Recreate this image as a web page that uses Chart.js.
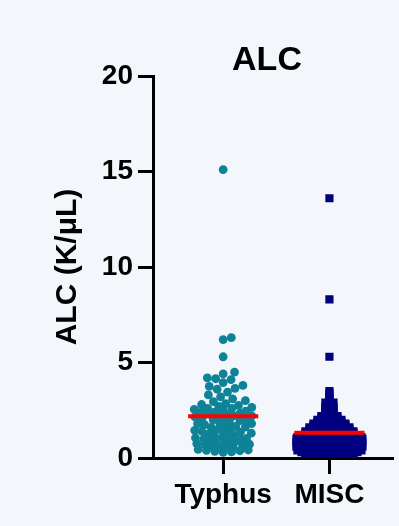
<!DOCTYPE html>
<html>
<head>
<meta charset="utf-8">
<script src="https://cdn.jsdelivr.net/npm/chart.js@4/dist/chart.umd.min.js"></script>
<style>
  html, body { margin: 0; padding: 0; background: #f3f6fa; }
  #wrap { width: 399px; height: 526px; }
</style>
</head>
<body>
<div id="wrap"><canvas id="c" width="399" height="526"></canvas></div>
<script>
// Group names, in x order
const categories = ['Typhus', 'MISC'];

// Absolute lymphocyte count per patient (K/µL)
const typhusALC = [
  15.1, 6.3, 6.2, 5.3,
  4.5, 4.4, 4.2, 4.15, 4.1, 3.95, 3.8, 3.75, 3.65, 3.6, 3.45,
  3.3, 3.2, 3.1, 3.0, 2.95, 2.85, 2.8, 2.75, 2.7, 2.65, 2.6, 2.6, 2.55, 2.5,
  2.45, 2.4, 2.4, 2.35, 2.3, 2.3, 2.25, 2.2, 2.2, 2.15, 2.1, 2.05, 2.0, 2.0,
  1.95, 1.9, 1.85, 1.8, 1.8, 1.75, 1.7, 1.65, 1.62, 1.6, 1.55, 1.5, 1.45, 1.4,
  1.4, 1.35, 1.3, 1.25, 1.2, 1.2, 1.15, 1.1, 1.05, 1.02, 1.0, 0.95, 0.92, 0.9,
  0.85, 0.8, 0.8, 0.75, 0.72, 0.7, 0.65, 0.6, 0.6, 0.55, 0.52, 0.5, 0.45, 0.42,
  0.4, 0.38, 0.35, 0.32, 0.3
];
const miscALC = [
  13.6, 8.3, 5.3,
  3.5, 3.4, 3.2, 3.1, 3.0, 2.9, 2.9, 2.8, 2.7, 2.7, 2.6, 2.6, 2.5, 2.5,
  2.4, 2.4, 2.3, 2.3, 2.2, 2.2, 2.2, 2.1, 2.1, 2.1,
  2.0, 2.0, 2.0, 2.0, 1.9, 1.9, 1.9, 1.9,
  1.8, 1.8, 1.8, 1.8, 1.8, 1.7, 1.7, 1.7, 1.7, 1.7,
  1.6, 1.6, 1.6, 1.6, 1.6, 1.6, 1.5, 1.5, 1.5, 1.5, 1.5, 1.5,
  1.4, 1.4, 1.4, 1.4, 1.4, 1.4, 1.4, 1.3, 1.3, 1.3, 1.3, 1.3, 1.3, 1.3,
  1.2, 1.2, 1.2, 1.2, 1.2, 1.2, 1.2, 1.2,
  1.1, 1.1, 1.1, 1.1, 1.1, 1.1, 1.1, 1.1, 1.1,
  1.0, 1.0, 1.0, 1.0, 1.0, 1.0, 1.0, 1.0, 1.0, 1.0,
  0.9, 0.9, 0.9, 0.9, 0.9, 0.9, 0.9, 0.9, 0.9,
  0.8, 0.8, 0.8, 0.8, 0.8, 0.8, 0.8, 0.8, 0.8, 0.8,
  0.7, 0.7, 0.7, 0.7, 0.7, 0.7, 0.7, 0.7, 0.7,
  0.6, 0.6, 0.6, 0.6, 0.6, 0.6, 0.6, 0.6, 0.6, 0.6,
  0.5, 0.5, 0.5, 0.5, 0.5, 0.5, 0.5, 0.5,
  0.4, 0.4, 0.4, 0.4, 0.4, 0.4, 0.4, 0.4, 0.4,
  0.3, 0.3, 0.3, 0.3, 0.3, 0.3, 0.3, 0.3,
  0.2, 0.2, 0.2, 0.2, 0.2, 0.2, 0.2,
  0.1, 0.1, 0.1, 0.1, 0.1, 0.1, 0.1
];

// Y axis ticks
const yTicks = [0, 5, 10, 15, 20];

const FONT = "'Liberation Sans', Arial, Helvetica, sans-serif";
const TEAL = '#0e8397';
const NAVY = '#000080';

const mean = arr => arr.reduce((s, v) => s + v, 0) / arr.length;

// Greedy beeswarm: place each point (pixel space) as close to the centre
// line as possible without overlap. When a level is full, the allowed
// spacing is relaxed step by step so points overlap instead of piling up
// at the edges.
function swarmOffsets(ysPx, d0, maxHalf) {
  const order = ysPx.map((y, i) => i).sort((a, b) => ysPx[b] - ysPx[a]);
  const placed = [];
  const xs = new Array(ysPx.length).fill(0);
  for (const i of order) {
    const y = ysPx[i];
    let x;
    for (const f of [1, 0.85, 0.7, 0.55, 0.4, 0.25, 0]) {
      const d = d0 * f;
      const near = placed.filter(p => Math.abs(p.y - y) < d);
      const cands = [0];
      near.forEach(p => {
        const dx = Math.sqrt(d * d - (p.y - y) * (p.y - y));
        cands.push(p.x + dx, p.x - dx);
      });
      cands.sort((a, b) => Math.abs(a) - Math.abs(b));
      x = cands.find(c => Math.abs(c) <= maxHalf + 1e-6 &&
        near.every(p => (p.x - c) ** 2 + (p.y - y) ** 2 >= d * d - 1e-6));
      if (x !== undefined) break;
    }
    if (x === undefined) x = 0;
    placed.push({ x, y });
    xs[i] = x;
  }
  return xs;
}

// Row layout: equal values share a row, spread symmetrically side by side,
// compressed when a row would exceed the column width.
function rowOffsets(values, step, maxHalf) {
  const rows = new Map();
  values.forEach((v, i) => {
    if (!rows.has(v)) rows.set(v, []);
    rows.get(v).push(i);
  });
  const xs = new Array(values.length).fill(0);
  rows.forEach(idx => {
    const n = idx.length;
    const s = n > 1 ? Math.min(step, (2 * maxHalf) / (n - 1)) : 0;
    idx.forEach((i, k) => { xs[i] = (k - (n - 1) / 2) * s; });
  });
  return xs;
}

const groups = [
  { values: typhusALC, color: TEAL, style: 'circle', radius: 4.4,
    layout: (v, ysPx) => swarmOffsets(ysPx, 8.4, 29) },
  { values: miscALC, color: NAVY, style: 'rect', radius: 5.8,
    layout: (v) => rowOffsets(v, 8, 33) }
];

const datasets = [];
// Mean lines (drawn on top of the points)
groups.forEach((g, gi) => {
  const m = mean(g.values);
  datasets.push({
    type: 'line',
    data: [{ x: gi + 1 - 0.33, y: m }, { x: gi + 1 + 0.33, y: m }],
    borderColor: '#ff0000',
    borderWidth: 4,
    pointRadius: 0,
    order: -1
  });
});
groups.forEach((g, gi) => {
  datasets.push({
    type: 'scatter',
    data: g.values.map(v => ({ x: gi + 1, y: v })),
    backgroundColor: g.color,
    borderWidth: 0,
    pointStyle: g.style,
    pointRadius: g.radius,
    pointHoverRadius: g.radius
  });
});

const bgPlugin = {
  id: 'bg',
  beforeDraw(chart) {
    const ctx = chart.ctx;
    ctx.save();
    ctx.fillStyle = '#f3f6fa';
    ctx.fillRect(0, 0, chart.width, chart.height);
    ctx.restore();
  }
};

const titlePlugin = {
  id: 'plotTitle',
  afterDraw(chart) {
    const ctx = chart.ctx;
    ctx.save();
    ctx.font = `bold 34px ${FONT}`;
    ctx.fillStyle = '#000';
    ctx.textAlign = 'center';
    ctx.textBaseline = 'alphabetic';
    ctx.fillText('ALC', 267, 70);
    ctx.restore();
  }
};

const chart = new Chart(document.getElementById('c'), {
  data: { datasets },
  options: {
    responsive: false,
    animation: false,
    events: [],
    layout: { padding: { left: 50, top: 76, right: 0, bottom: 0 } },
    plugins: { legend: { display: false }, tooltip: { enabled: false }, title: { display: false } },
    scales: {
      x: {
        type: 'linear',
        min: 0.34,
        max: 2.6,
        afterBuildTicks(scale) { scale.ticks = categories.map((c, i) => ({ value: i + 1 })); },
        afterFit(scale) { scale.height = 68; },
        ticks: {
          callback: v => categories[v - 1],
          color: '#000',
          font: { family: FONT, size: 28, weight: 'bold' },
          padding: 4,
          maxRotation: 0,
          autoSkip: false
        },
        grid: { drawOnChartArea: false, drawTicks: true, tickLength: 16, tickWidth: 3, tickColor: '#000' },
        border: { display: true, color: '#000', width: 3 }
      },
      y: {
        min: 0,
        max: 20,
        afterBuildTicks(scale) { scale.ticks = yTicks.map(v => ({ value: v })); },
        afterFit(scale) { scale.width = 103; },
        ticks: {
          color: '#000',
          font: { family: FONT, size: 28, weight: 'bold' },
          padding: 5
        },
        title: {
          display: true,
          text: 'ALC (K/μL)',
          color: '#000',
          font: { family: FONT, size: 30, weight: 'bold' },
          padding: 0
        },
        grid: { drawOnChartArea: false, drawTicks: true, tickLength: 15, tickWidth: 3, tickColor: '#000' },
        border: { display: true, color: '#000', width: 3 }
      }
    }
  },
  plugins: [bgPlugin, titlePlugin]
});

// Spread each group sideways using the scales' pixel mapping
const xs = chart.scales.x, ys = chart.scales.y;
const pxPerX = xs.getPixelForValue(2) - xs.getPixelForValue(1);
groups.forEach((g, gi) => {
  const ysPx = g.values.map(v => ys.getPixelForValue(v));
  const offs = g.layout(g.values, ysPx);
  const ds = chart.data.datasets[groups.length + gi];
  ds.data = g.values.map((v, i) => ({ x: gi + 1 + offs[i] / pxPerX, y: v }));
});
chart.update('none');
</script>
</body>
</html>
